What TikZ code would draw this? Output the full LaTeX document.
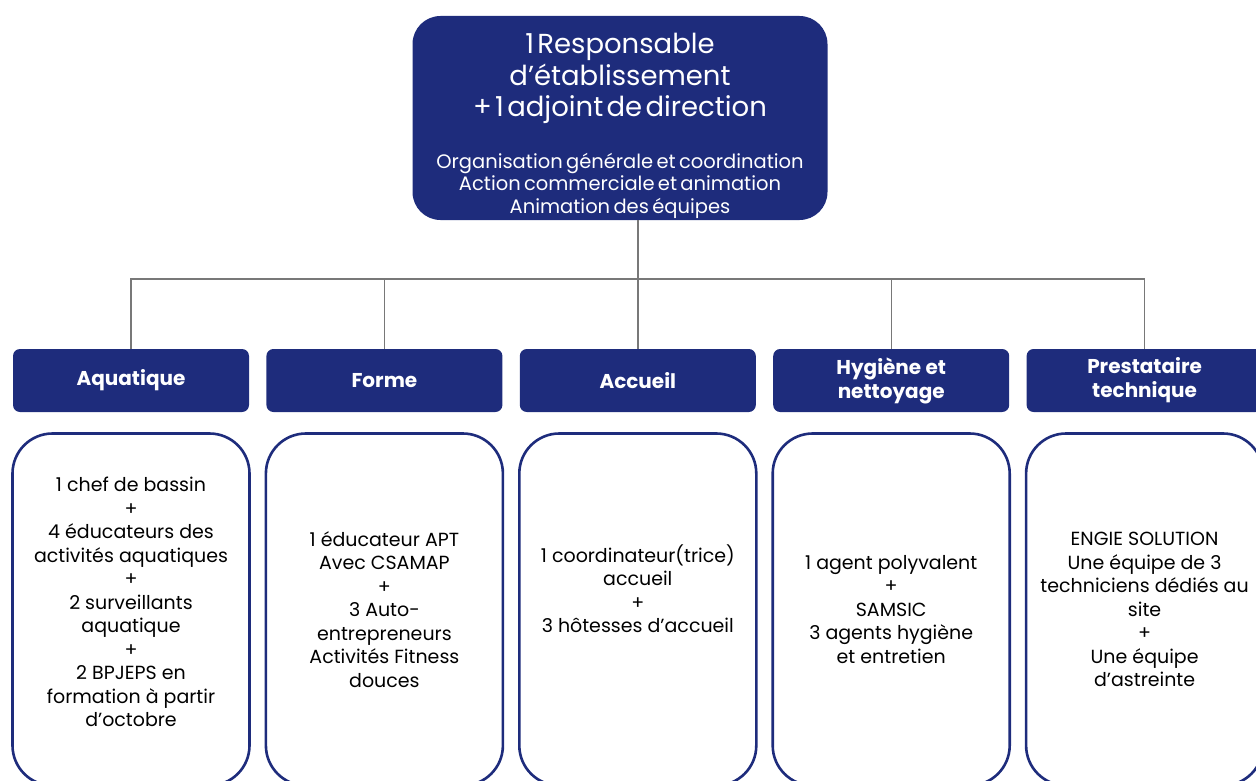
\documentclass[tikz,border=0pt]{standalone}
\usepackage{fontspec}
\setmainfont{Poppins}
\usepackage{xcolor}
\usetikzlibrary{positioning}
\definecolor{navy}{RGB}{30,44,124}
\definecolor{wiregray}{RGB}{120,120,120}

\begin{document}
\begin{tikzpicture}[x=1pt,y=-1pt,node distance=20pt,
  chief/.style={rectangle,rounded corners=28pt,fill=navy,text=white,minimum width=415pt,minimum height=204pt,text width=405pt,align=center,inner sep=0pt},
  head/.style={rectangle,rounded corners=7pt,fill=navy,text=white,minimum width=236pt,minimum height=63pt,align=center,font=\fontsize{20}{24}\selectfont\bfseries},
  card/.style={rectangle,rounded corners=40pt,draw=navy,line width=2.6pt,fill=white,minimum width=237pt,minimum height=352pt,align=center,font=\fontsize{19}{23.5}\selectfont},
  wire/.style={draw=wiregray,line width=1.4pt}]
  \useasboundingbox (0,0) rectangle (1256,781);

  \node[chief] (dir) at (620,118) {{\fontsize{27.5}{31.5}\selectfont\rule{0pt}{36pt}1 Responsable\\ d’établissement\\ + 1 adjoint de direction\par}\vspace{29pt}{\fontsize{19.5}{22.5}\selectfont Organisation générale et coordination\\ Action commerciale et animation\\ Animation des équipes\par}};

  \node[head] (aqua) at (131,380.5) {Aquatique};
  \node[head] (forme) [right=17pt of aqua] {Forme};
  \node[head] (accueil) [right=17pt of forme] {Accueil};
  \node[head] (hygiene) [right=17pt of accueil] {Hygiène et\\ nettoyage};
  \node[head] (presta) [right=17pt of hygiene] {Prestataire\\ technique};

  \node[card] (aquacard) [below=of aqua] {1 chef de bassin\\ +\\ 4 éducateurs des\\ activités aquatiques\\ +\\ 2 surveillants\\ aquatique\\ +\\ 2 BPJEPS en\\ formation à partir\\ d’octobre\\[-8pt]};
  \node[card] (formecard) [below=of forme] {1 éducateur APT\\ Avec CSAMAP\\ +\\ 3 Auto-\\ entrepreneurs\\ Activités Fitness\\ douces};
  \node[card] (accueilcard) [below=of accueil] {1 coordinateur(trice)\\ accueil\\ +\\ 3 hôtesses d’accueil\\[18pt]};
  \node[card] (hygienecard) [below=of hygiene] {1 agent polyvalent\\ +\\ SAMSIC\\ 3 agents hygiène\\ et entretien};
  \node[card] (prestacard) [below=of presta] {ENGIE SOLUTION\\ Une équipe de 3\\ techniciens dédiés au\\ site\\ +\\ Une équipe\\ d’astreinte};

  \coordinate (bus) at (0,279);
  \draw[wire] (aqua.north) |- (presta.north |- bus) -- (presta.north);
  \foreach \n in {forme,hygiene}
    \draw[wire] (\n.north) -- (\n.north |- bus);
  \draw[wire] (dir.south -| accueil.north) -- (accueil.north);
\end{tikzpicture}
\end{document}
